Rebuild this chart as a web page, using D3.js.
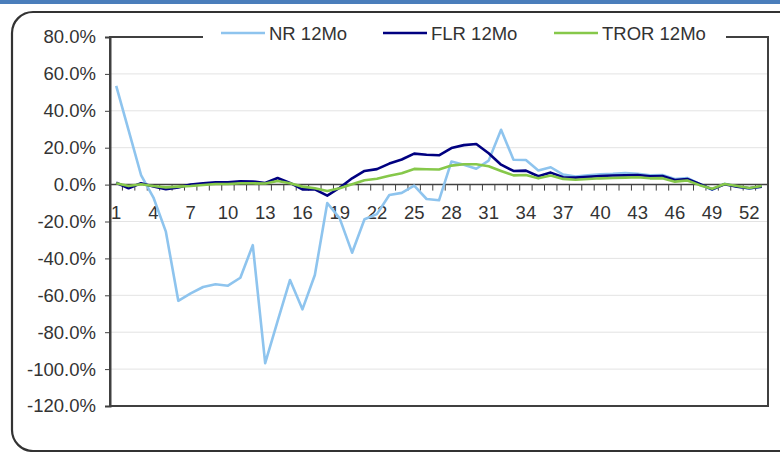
<!DOCTYPE html>
<html>
<head>
<meta charset="utf-8">
<script src="https://cdn.jsdelivr.net/npm/d3@7/dist/d3.min.js"></script>
<style>
  html, body { margin: 0; padding: 0; background: #fff; }
  svg { display: block; }
  text { font-family: "Liberation Sans", Arial, sans-serif; fill: #333; }
</style>
</head>
<body>
<svg id="chart" width="780" height="452"></svg>
<script>
// Period numbers along the category axis
const periods = d3.range(1, 54);

// Rolling 12-month returns, in percent
const nr12 = [
  53.5, 29.4, 5.2, -7, -25.5, -63, -59, -55.5, -54, -54.8,
  -50.5, -32.8, -96.8, -74, -51.7, -67.6, -49, -10, -18.3, -36.9,
  -18.8, -16, -5.6, -4.5, -0.6, -7.8, -8.5, 12.5, 10.8, 8.6,
  13, 29.7, 13.5, 13.3, 7.7, 9.4, 5.4, 4.4, 5, 5.6,
  5.8, 6.2, 5.8, 5, 5.2, 3, 3.6, 0.2, -2.8, 0.4,
  -1, -2.2, -1
];
const flr12 = [
  1, -2, 0.7, -1, -2.5, -1.5, 0, 0.7, 1.2, 1.2,
  1.8, 1.7, 0.9, 3.6, 0.9, -2.6, -2.6, -6, -1.7, 3.4,
  7.4, 8.4, 11.4, 13.6, 16.8, 16.2, 15.9, 19.8, 21.4, 22,
  17, 10.8, 7.4, 7.6, 4.5, 6.5, 4, 3.8, 4.2, 4.7,
  4.9, 5, 5.2, 4.5, 4.6, 2.5, 3, 0.3, -2.6, 0.2,
  -1.1, -2, -1.1
];
const tror12 = [
  0.7, -0.8, 0.2, -0.8, -1.5, -1.1, -0.8, -0.2, 0.3, 0.3,
  0.7, 0.7, 0.6, 2, 0.7, -1.1, -2, -3.5, -2, 0.2,
  2.4, 3.2, 4.8, 6.2, 8.5, 8.3, 8.2, 10.3, 11, 11,
  9.9, 7.4, 5, 5.2, 3.4, 4.9, 3.1, 2.6, 3, 3.4,
  3.6, 3.8, 4, 3.4, 3.5, 1.6, 2.2, -0.3, -2.2, 0.3,
  -0.8, -1.8, -0.8
];

const seriesNames = ["NR 12Mo", "FLR 12Mo", "TROR 12Mo"];
const seriesColors = ["#8ec4ee", "#000080", "#86c84a"];
const yTicks = [-120, -100, -80, -60, -40, -20, 0, 20, 40, 60, 80];
const xLabelEvery = 3;

const series = [nr12, flr12, tror12].map((vals, i) => ({
  name: seriesNames[i],
  color: seriesColors[i],
  values: vals.map((v, j) => ({ p: periods[j], v }))
}));

const svg = d3.select("#chart");
const plot = { left: 110, right: 768, top: 37, bottom: 406 };

// Title strip and rounded chart frame
svg.append("rect").attr("x", 0).attr("y", 0).attr("width", 780).attr("height", 4)
  .attr("fill", "#4a7ebb");
svg.append("rect").attr("x", 12).attr("y", 12).attr("width", 788).attr("height", 439)
  .attr("rx", 21).attr("ry", 21)
  .attr("fill", "#fff").attr("stroke", "#333").attr("stroke-width", 2.2);

const x = d3.scaleBand().domain(periods).range([plot.left, plot.right]).paddingInner(0).paddingOuter(0);
const y = d3.scaleLinear().domain([-120, 80]).range([plot.bottom, plot.top]);
const cx = p => x(p) + x.bandwidth() / 2;

// Horizontal gridlines
svg.append("g").selectAll("line")
  .data(yTicks.filter(t => t !== 0 && t !== 80))
  .join("line")
  .attr("x1", plot.left).attr("x2", plot.right)
  .attr("y1", d => y(d)).attr("y2", d => y(d))
  .attr("stroke", "#e3e3e3").attr("stroke-width", 1);

// Plot area frame
svg.append("rect")
  .attr("x", plot.left).attr("y", plot.top)
  .attr("width", plot.right - plot.left).attr("height", plot.bottom - plot.top)
  .attr("fill", "none").attr("stroke", "#404040").attr("stroke-width", 2);

// Value axis
const yAxis = svg.append("g")
  .attr("transform", `translate(${plot.left},0)`)
  .call(d3.axisLeft(y).tickValues(yTicks).tickSize(5).tickPadding(9)
    .tickFormat(d => d.toFixed(1) + "%"));
yAxis.select(".domain").attr("stroke", "#404040").attr("stroke-width", 2);
yAxis.selectAll(".tick line").attr("stroke", "#404040");
yAxis.selectAll("text").style("font-size", "18.5px").attr("fill", "#333")
  .style("font-family", "'Liberation Sans', Arial, sans-serif");

// Category axis along zero: ticks on band edges, labels every third period
const y0 = y(0);
const xAxis = svg.append("g").attr("transform", `translate(0,${y0})`);
xAxis.append("line").attr("x1", plot.left).attr("x2", plot.right)
  .attr("y1", 0).attr("y2", 0).attr("stroke", "#404040").attr("stroke-width", 1.5);
const edges = periods.map(p => x(p)).concat([x.range()[1]]);
xAxis.selectAll("line.tk").data(edges).join("line").attr("class", "tk")
  .attr("x1", d => d).attr("x2", d => d).attr("y1", 0).attr("y2", 6)
  .attr("stroke", "#404040").attr("stroke-width", 1);
xAxis.selectAll("text").data(periods.filter((p, i) => i % xLabelEvery === 0)).join("text")
  .attr("x", d => cx(d)).attr("y", 34)
  .attr("text-anchor", "middle").style("font-size", "18.5px")
  .text(d => d);

// Series lines
const line = d3.line().x(d => cx(d.p)).y(d => y(d.v));
svg.append("g").selectAll("path").data(series).join("path")
  .attr("d", d => line(d.values))
  .attr("fill", "none").attr("stroke", d => d.color)
  .attr("stroke-width", 2.6).attr("stroke-linejoin", "round");

// Legend sitting on the top edge of the plot frame
const legend = svg.append("g");
legend.append("rect").attr("x", 203).attr("y", 24).attr("width", 523).attr("height", 22)
  .attr("fill", "#fff");
const legendPos = [221, 383, 554];
const item = legend.selectAll("g").data(series).join("g")
  .attr("transform", (d, i) => `translate(${legendPos[i]},33)`);
item.append("line").attr("x1", 0).attr("x2", 44).attr("y1", 0).attr("y2", 0)
  .attr("stroke", d => d.color).attr("stroke-width", 2.6);
item.append("text").attr("x", 48).attr("y", 6.5).style("font-size", "18.5px")
  .text(d => d.name);
</script>
</body>
</html>
